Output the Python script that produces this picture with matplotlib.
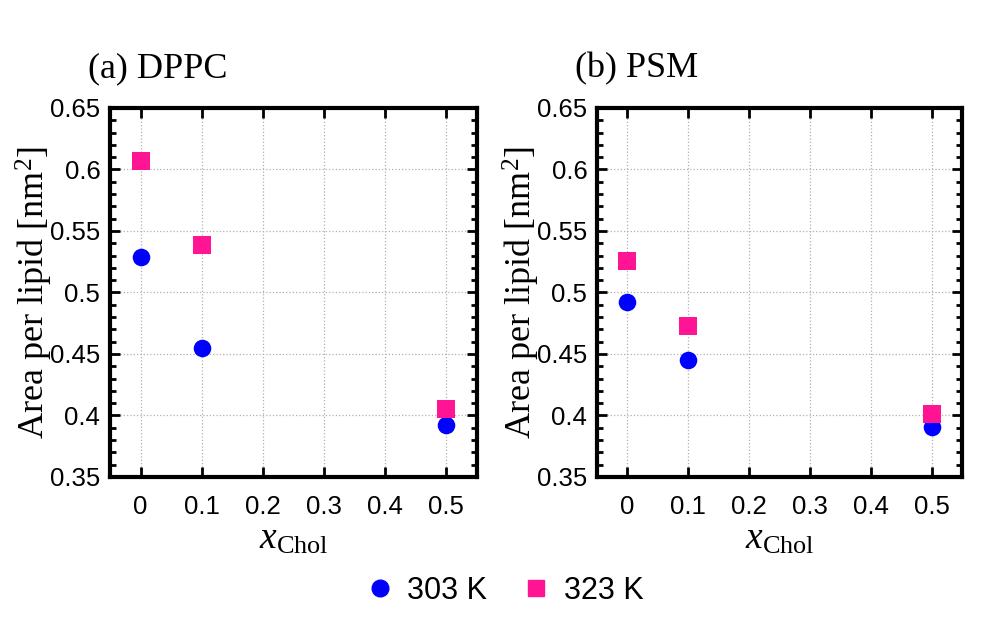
import matplotlib
matplotlib.use("Agg")
import matplotlib.pyplot as plt
from matplotlib.ticker import MultipleLocator
from matplotlib.lines import Line2D

x_chol = [0.0, 0.1, 0.5]
dppc_303 = [0.529, 0.455, 0.392]
dppc_323 = [0.607, 0.539, 0.405]
psm_303 = [0.492, 0.445, 0.391]
psm_323 = [0.526, 0.473, 0.401]
titles = ["(a) DPPC", "(b) PSM"]
xticks = [0, 0.1, 0.2, 0.3, 0.4, 0.5]
xticklabels = ["0", "0.1", "0.2", "0.3", "0.4", "0.5"]
yticks = [0.35, 0.4, 0.45, 0.5, 0.55, 0.6, 0.65]
yticklabels = ["0.35", "0.4", "0.45", "0.5", "0.55", "0.6", "0.65"]

serif = "Liberation Serif"
sans = "Liberation Sans"
plt.rcParams["mathtext.fontset"] = "custom"
plt.rcParams["mathtext.rm"] = serif
plt.rcParams["mathtext.it"] = serif + ":italic"
plt.rcParams["font.family"] = serif

fig = plt.figure(figsize=(9.97, 6.23), dpi=100)
W, H = 997, 623
boxes = [(110, 108, 477, 477), (597, 108, 962, 477)]
data = [(dppc_303, dppc_323), (psm_303, psm_323)]

for (x0, y0, x1, y1), (a, b), title in zip(boxes, data, titles):
    ax = fig.add_axes([x0 / W, 1 - y1 / H, (x1 - x0) / W, (y1 - y0) / H])
    ax.scatter(x_chol, a, s=160, marker="o", color="#0000ff", zorder=3, linewidths=0)
    ax.scatter(x_chol, b, s=160, marker="s", color="#ff1493", zorder=3, linewidths=0)
    ax.set_xlim(-0.05, 0.55)
    ax.set_ylim(0.35, 0.65)
    ax.set_xticks(xticks)
    ax.set_xticklabels(xticklabels, fontfamily=sans, fontsize=18.5)
    ax.set_yticks(yticks)
    ax.set_yticklabels(yticklabels, fontfamily=sans, fontsize=18.5)
    ax.yaxis.set_minor_locator(MultipleLocator(0.01))
    ax.tick_params(which="both", direction="in", top=True, right=True, width=2)
    ax.tick_params(which="major", length=7)
    ax.tick_params(which="minor", length=4)
    ax.tick_params(axis="y", pad=7)
    ax.tick_params(axis="x", pad=13)
    ax.grid(True, color="#b0b0b0", linestyle=":", linewidth=0.9)
    for sp in ax.spines.values():
        sp.set_linewidth(3)
    ax.set_xlabel(r"$x_{\mathrm{Chol}}$", fontsize=27, labelpad=2)
    ax.set_ylabel(r"Area per lipid [nm$^2$]", fontsize=26, fontfamily=serif)
    ax.yaxis.set_label_coords(-0.15, 0.5)
    ax.set_title(title, fontsize=26, fontfamily=serif, loc="left", x=-0.06, pad=22)

handles = [
    Line2D([], [], marker="o", linestyle="", color="#0000ff", markersize=12, label="303 K"),
    Line2D([], [], marker="s", linestyle="", color="#ff1493", markersize=11, label="323 K"),
]
fig.legend(handles=handles, loc="center", bbox_to_anchor=(0.504, 1 - 591 / H), ncol=2,
           frameon=False, prop={"family": sans, "size": 22}, handletextpad=0.3,
           handlelength=1.2, columnspacing=1.0)

fig.savefig("out.png", dpi=100)
